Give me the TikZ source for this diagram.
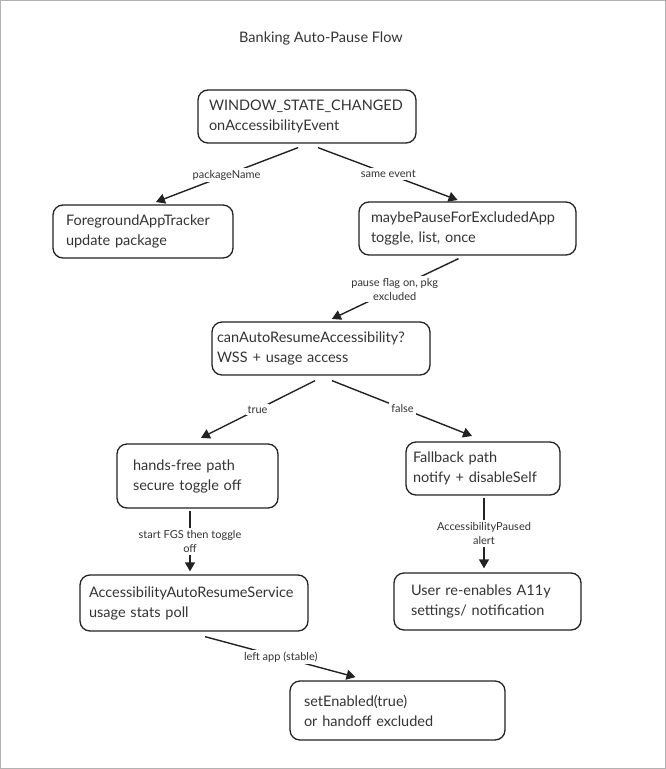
\documentclass[tikz,border=0pt]{standalone}
\usepackage{fontspec}
\setmainfont{Lato}
\usetikzlibrary{positioning,arrows.meta,calc}
\tikzset{>={Triangle[length=9pt,width=10pt]}}
\definecolor{ink}{HTML}{222222}
\definecolor{txt}{HTML}{333333}

\begin{document}
\begin{tikzpicture}[x=1pt, y=-1pt, shorten >=1pt,
    box/.style={draw=ink, line width=1.3pt, rounded corners=10pt, align=left,
        text=txt, font=\fontsize{14.5}{20}\selectfont},
    lbl/.style={fill=white, text=txt, align=center, inner sep=2pt,
        font=\fontsize{11}{14}\selectfont},
    flow/.style={->, color=ink, line width=1.4pt}]
    \useasboundingbox (0,0) rectangle (666,769);
    \draw[gray!60, line width=1pt] (0.5,0.5) rectangle (665.5,768.5);
    \node[text=txt, font=\fontsize{14.5}{17}\selectfont] (title) at (321,38) {Banking Auto-Pause Flow};
    % boxes
    \node[box, inner xsep=11pt, text width=196pt, minimum height=53pt] (ev) at (307,116.5) {WINDOW\_STATE\_CHANGED\\onAccessibilityEvent};
    \node[box, inner xsep=13pt, text width=154pt, minimum height=53pt] (tracker) at (143,231.5) {ForegroundAppTracker\\update package};
    \node[box, inner xsep=12pt, text width=193pt, minimum height=53pt] (pause) at (467.5,228.5) {maybePauseForExcludedApp\\toggle, list, once};
    \node[box, inner xsep=5pt, text width=208pt, minimum height=53pt] (canres) at (321,348.5) {canAutoResumeAccessibility?\\WSS + usage access};
    \node[box, inner xsep=16pt, text width=129pt, minimum height=64pt] (handsfree) at (197.5,476) {hands-free path\\secure toggle off};
    \node[box, inner xsep=7pt, text width=140pt, minimum height=53pt] (fallback) at (483,468.5) {Fallback path\\notify + disableSelf};
    \node[box, inner xsep=9pt, text width=210pt, minimum height=56pt] (service) at (194,603) {AccessibilityAutoResumeService\\usage stats poll};
    \node[box, inner xsep=17pt, text width=153pt, minimum height=57pt] (user) at (487.5,601.5) {User re-enables A11y\\settings/ notification};
    \node[box, inner xsep=14pt, text width=187pt, minimum height=59pt] (enable) at (397.5,710.5) {setEnabled(true)\\or handoff excluded};
    % connectors
    \path[flow] ([xshift=-9pt,yshift=-4pt]ev.south) edge node[lbl] {packageName} ([xshift=12pt,yshift=2pt]tracker.north)
                ([xshift=11pt,yshift=-4pt]ev.south) edge node[lbl] {same event} ([xshift=-9pt,yshift=1pt]pause.north)
                ([xshift=-9pt,yshift=-3pt]pause.south) edge node[lbl] {pause flag on, pkg\\excluded} ([xshift=10pt,yshift=2pt]canres.north)
                ([xshift=-6pt,yshift=-5pt]canres.south) edge node[lbl] {true} ([xshift=2.5pt,yshift=5pt]handsfree.north)
                ([xshift=11pt,yshift=-5pt]canres.south) edge node[lbl] {false} ([xshift=-10pt,yshift=5pt]fallback.north)
                ([xshift=-7.5pt,yshift=-2pt]handsfree.south) edge node[lbl] {start FGS then toggle\\off} ([xshift=-4pt,yshift=2pt]service.north)
                ([xshift=1pt,yshift=-2pt]fallback.south) edge node[lbl] {AccessibilityPaused\\alert} ([xshift=-3.5pt,yshift=3pt]user.north)
                ([xshift=11pt,yshift=-5pt]service.south) edge node[lbl] {left app (stable)} ([xshift=-41pt,yshift=3pt]enable.north);
\end{tikzpicture}
\end{document}
